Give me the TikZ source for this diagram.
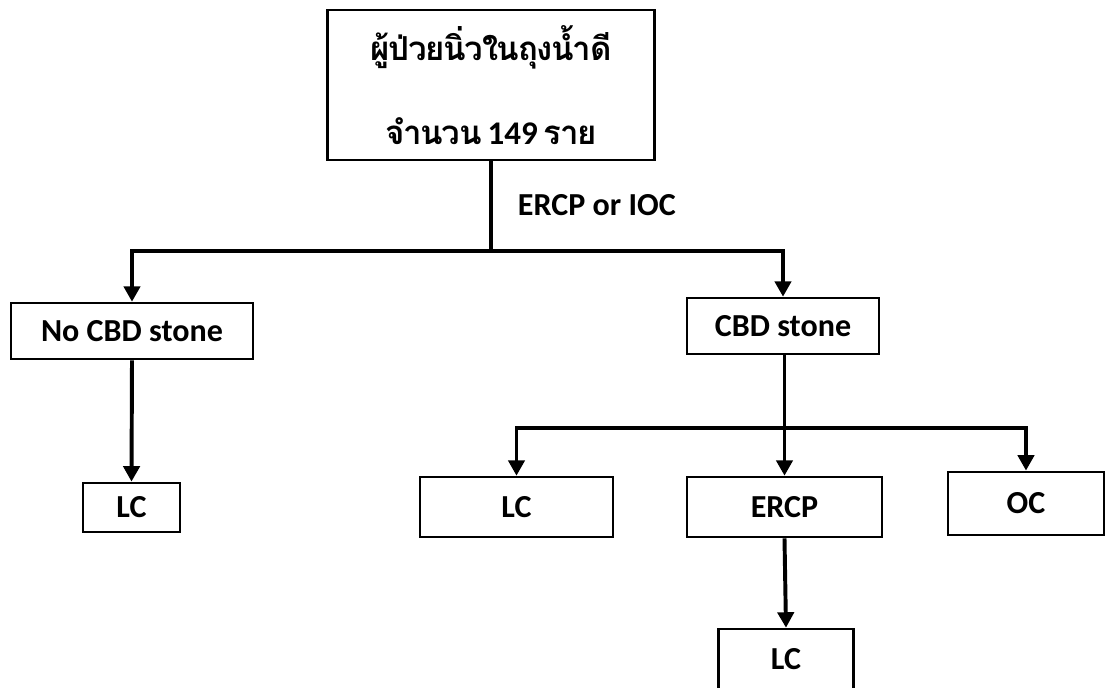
\documentclass[tikz,border=0pt]{standalone}
\usepackage{fontspec}
\setmainfont{Carlito}
\newfontfamily\thaifont[Script=Thai, LetterSpace=-4, WordSpace=0.6]{Loma}
\usetikzlibrary{arrows.meta}
\tikzset{
  box/.style={draw, line width=1.8pt, inner sep=0pt, font=\bfseries\fontsize{22.8}{26}\selectfont},
  arr/.style={line width=2.8pt, -{Triangle[length=11pt,width=11.5pt]}},
  trunk/.style={line width=2.8pt},
}
\begin{document}
\begin{tikzpicture}[x=0.025cm, y=-0.025cm]
    \useasboundingbox (0,0) rectangle (1107,688);

    % top box
    \node[box, minimum width=8.18cm, minimum height=3.75cm, align=center,
          font=\thaifont\bfseries\fontsize{23.5}{34}\selectfont] (patients) at (491,85)
         {ผู้ป่วยนิ่วในถุงน้ำดี\\[26pt]จำนวน {\rmfamily 149} ราย};

    % first level
    \node[box, minimum width=6.05cm, minimum height=1.4cm] (nostone) at (132,331) {No CBD stone};
    \node[box, minimum width=4.8cm, minimum height=1.4cm] (stone) at (783,326) {CBD stone};
    \node[box, minimum width=2.43cm, minimum height=1.23cm] (lcleft) at (131.5,507.5) {LC};

    % second level
    \node[box, minimum width=4.83cm, minimum height=1.5cm] (lcmid) at (516.5,507) {LC};
    \node[box, minimum width=4.88cm, minimum height=1.5cm] (ercp) at (784.5,507) {ERCP};
    \node[box, minimum width=3.9cm, minimum height=1.58cm] (oc) at (1026,503.5) {OC};
    \node[box, minimum width=3.38cm, minimum height=1.5cm] (lcbottom) at (786,659) {LC};

    % connectors
    \coordinate (split) at (491,251);
    \draw[trunk] (patients.south) -- (split);
    \node[anchor=west, font=\bfseries\fontsize{22.8}{26}\selectfont] (method) at (513,205) {ERCP or IOC};
    \draw[arr] (split) -| (nostone.north);
    \draw[arr] (split) -| (stone.north);
    \draw[arr] (nostone.south) -- (lcleft.north);

    \coordinate (split2) at (784.5,428);
    \draw[arr] (stone.south -| split2) -- (ercp.north);
    \draw[arr] (split2) -| (lcmid.north);
    \draw[arr] (split2) -| (oc.north);
    \draw[arr] (ercp.south) -- (lcbottom.north);

\end{tikzpicture}
\end{document}
